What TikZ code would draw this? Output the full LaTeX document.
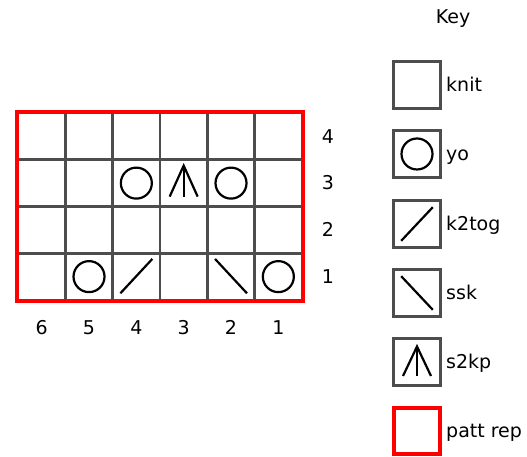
\documentclass[tikz,border=0pt]{standalone}
\usepackage{fontspec}
\setmainfont{DejaVu Sans}
\usepackage{xcolor}
\usepackage{tikz}
\usetikzlibrary{calc}
\definecolor{gridgray}{HTML}{4D4D4D}

\begin{document}
\begin{tikzpicture}[x=1pt, y=1pt,
    cell/.style={rectangle, draw=gridgray, line width=2.6pt, minimum width=47.33pt, minimum height=46.75pt, inner sep=0pt},
    keybox/.style={rectangle, draw=gridgray, line width=2.6pt, minimum size=47pt, inner sep=0pt},
    repbox/.style={rectangle, draw=red, line width=3.8pt, minimum size=46pt, inner sep=0pt},
    yo/.style={circle, draw, line width=2.2pt, minimum size=31pt, inner sep=0pt},
    stitch/.style={line width=2.2pt},
    num/.style={font=\fontsize{19}{21}\selectfont, inner sep=0pt, anchor=base},
    label/.style={font=\fontsize{19}{21}\selectfont, inner sep=0pt, anchor=base west}
  ]
    \useasboundingbox (0,0) rectangle (527,457);

    % Chart grid
    \foreach \c in {1,...,6}
      \foreach \r in {1,...,4}
        \node[cell] (c\c-\r) at ({302-(\c-0.5)*47.33}, {157+(\r-0.5)*46.75}) {};
    \draw[red, line width=3.8pt] (c6-4.north west) rectangle (c1-1.south east);

    % Row and stitch numbers
    \foreach \r in {1,...,4}
      \node[num] (row\r) at (328, {157+(\r-0.5)*46.75-6.8}) {\r};
    \foreach \c in {1,...,6}
      \node[num] (col\c) at ({302-(\c-0.5)*47.33}, 122.2) {\c};

    % Row 1
    \node[yo] (yo51) at (c5-1) {};
    \draw[stitch] ($(c4-1.south west)+(9,8)$) -- ($(c4-1.north east)+(-9,-7)$);
    \draw[stitch] ($(c2-1.north west)+(9,-7)$) -- ($(c2-1.south east)+(-9,8)$);
    \node[yo] (yo11) at (c1-1) {};

    % Row 3
    \node[yo] (yo43) at (c4-3) {};
    \draw[stitch] ($(c3-3)+(-14,-13.5)$) -- ($(c3-3)+(0,17.5)$) -- ($(c3-3)+(14,-13.5)$);
    \draw[stitch] ($(c3-3)+(0,17.5)$) -- ($(c3-3)+(0,-13.5)$);
    \node[yo] (yo23) at (c2-3) {};

    % Key
    \node[num] (keytitle) at (453, 433.2) {Key};

    \node[keybox] (kknit) at (417, 372) {};
    \node[label] (lknit) at (446, 365.5) {knit};

    \node[keybox] (kyo) at (417, 303) {};
    \node[yo] (kyosym) at (kyo) {};
    \node[label] (lyo) at (446, 296.5) {yo};

    \node[keybox] (kktog) at (417, 233) {};
    \draw[stitch] ($(kktog.south west)+(9,8)$) -- ($(kktog.north east)+(-9,-8)$);
    \node[label] (lktog) at (446, 226.5) {k2tog};

    \node[keybox] (kssk) at (417, 164) {};
    \draw[stitch] ($(kssk.north west)+(9,-8)$) -- ($(kssk.south east)+(-9,8)$);
    \node[label] (lssk) at (446, 157.5) {ssk};

    \node[keybox] (kstkp) at (417, 95) {};
    \draw[stitch] ($(kstkp)+(-14,-14)$) -- ($(kstkp)+(0,15.5)$) -- ($(kstkp)+(14,-14)$);
    \draw[stitch] ($(kstkp)+(0,15.5)$) -- ($(kstkp)+(0,-14)$);
    \node[label] (lstkp) at (446, 88.5) {s2kp};

    \node[repbox] (krep) at (417, 26) {};
    \node[label] (lrep) at (446, 19.5) {patt rep};

\end{tikzpicture}
\end{document}
